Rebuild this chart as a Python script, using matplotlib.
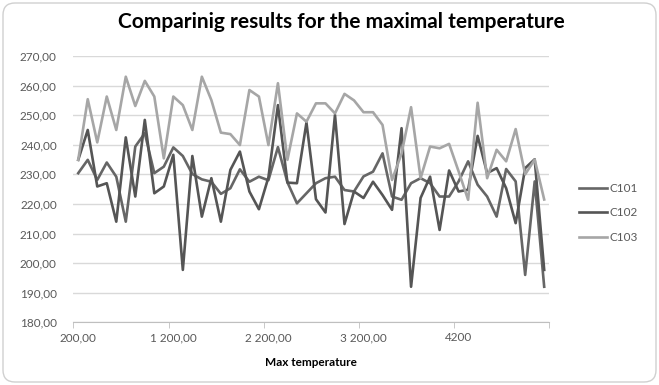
import matplotlib
matplotlib.use('Agg')
import matplotlib.pyplot as plt
from matplotlib.patches import FancyBboxPatch

plt.rcParams['font.family'] = ['Lato', 'DejaVu Sans']

# valores (50 categorias)
c101 = [230.4, 234.9, 228.1, 234.0, 229.2, 214.0, 239.4, 243.9, 230.4, 232.6,
        239.1, 236.2, 230.1, 228.3, 227.5, 223.4, 225.3, 231.7, 227.5, 229.2,
        228.0, 239.2, 227.3, 220.2, 223.6, 227.0, 228.7, 229.2, 224.7, 224.2,
        229.3, 230.9, 237.1, 222.5, 221.4, 227.0, 228.7, 227.0, 222.5, 222.5,
        227.6, 234.4, 226.5, 222.5, 215.7, 231.8, 227.6, 196.0, 227.6, 192.0]
c102 = [234.9, 245.0, 225.9, 227.0, 214.0, 242.5, 222.5, 248.4, 223.6, 225.9,
        236.6, 197.7, 236.2, 215.7, 228.7, 214.0, 231.5, 237.7, 224.2, 218.2,
        229.0, 253.4, 227.2, 227.0, 247.5, 221.6, 217.1, 250.1, 213.2, 224.2,
        222.0, 227.5, 223.0, 218.0, 245.6, 192.0, 222.0, 229.2, 211.2, 231.3,
        224.2, 224.8, 243.0, 230.4, 232.1, 225.3, 213.5, 232.1, 235.1, 197.7]
c103 = [234.9, 255.4, 240.8, 256.3, 245.0, 263.0, 253.1, 261.6, 256.3, 235.4,
        256.3, 253.4, 245.0, 263.0, 255.1, 244.1, 243.6, 239.9, 258.5, 256.3,
        239.9, 260.8, 234.9, 250.6, 247.8, 254.0, 254.0, 250.6, 257.2, 255.0,
        251.0, 251.0, 246.7, 228.1, 237.0, 252.7, 228.7, 239.4, 238.8, 240.3,
        231.0, 221.4, 254.2, 228.7, 238.3, 234.4, 245.3, 230.0, 235.0, 221.5]

x_labels = ['200,00', '1 200,00', '2 200,00', '3 200,00', '4200']
y_ticks = [180, 190, 200, 210, 220, 230, 240, 250, 260, 270]

fig = plt.figure(figsize=(6.59, 3.85), dpi=100)
ax = fig.add_axes([0.1115, 0.163, 0.7215, 0.6915])

x = list(range(len(c101)))
ax.plot(x, c101, color='#666666', lw=1.9, label='C101')
ax.plot(x, c102, color='#555555', lw=1.9, label='C102')
ax.plot(x, c103, color='#a6a6a6', lw=1.9, label='C103')

ax.set_xlim(-0.5, len(x) - 0.5)
ax.set_ylim(180, 270)
ax.set_yticks(y_ticks)
ax.set_yticklabels(['%d,00' % v for v in y_ticks], fontsize=8.5, color='#595959')
ax.set_xticks(range(0, len(x), 10))
ax.set_xticklabels(x_labels, fontsize=8.5, color='#595959')
ax.set_xticks([i - 0.5 for i in range(0, len(x) + 1, 10)], minor=True)
ax.tick_params(axis='x', which='major', length=0, pad=7)
ax.tick_params(axis='x', which='minor', length=4, color='#bfbfbf')
ax.tick_params(axis='y', length=0, pad=12)

ax.grid(axis='y', color='#d9d9d9', lw=1)
ax.set_axisbelow(True)
for s in ['left', 'right', 'top']:
    ax.spines[s].set_visible(False)
ax.spines['bottom'].set_color('#bfbfbf')

ax.set_xlabel('Max temperature', fontsize=8.5, fontweight='bold', labelpad=10)
fig.text(0.518, 0.943, 'Comparinig results for the maximal temperature',
         ha='center', va='center', fontsize=15, fontweight='bold')

fig.legend(loc='center left', bbox_to_anchor=(0.878, 0.447), frameon=False,
           fontsize=8.5, handlelength=2.4, labelspacing=1.15, handletextpad=0.25,
           borderpad=0, borderaxespad=0, labelcolor='#595959')

border = FancyBboxPatch((3, 3), 653, 379, boxstyle='round,pad=0,rounding_size=12',
                        transform=None, fill=False, edgecolor='#d0d0d0', lw=1)
fig.add_artist(border)

fig.savefig('out.png', dpi=100)
